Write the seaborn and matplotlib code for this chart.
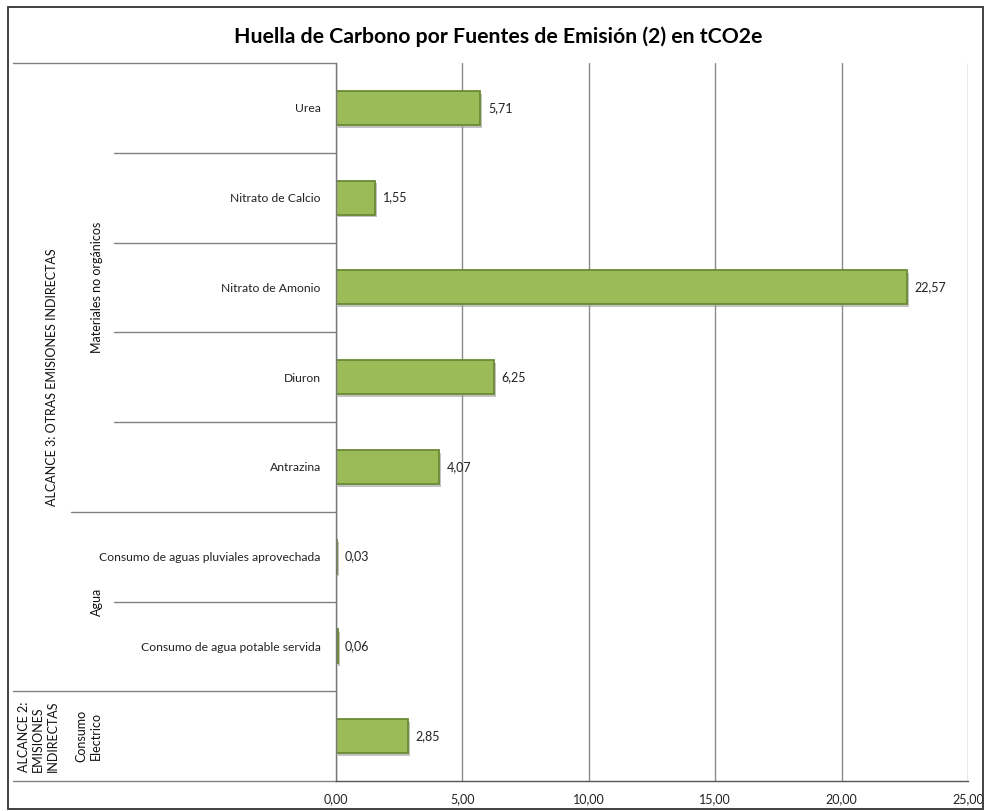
import matplotlib
matplotlib.use("Agg")
import matplotlib.pyplot as plt
import matplotlib.patheffects as pe
from matplotlib.patches import Rectangle
from matplotlib.transforms import blended_transform_factory
import seaborn as sns
import pandas as pd

# ---- data ----
fuentes = ["Urea", "Nitrato de Calcio", "Nitrato de Amonio", "Diuron", "Antrazina",
           "Consumo de aguas pluviales aprovechada", "Consumo de agua potable servida",
           "Consumo Electrico"]
etiquetas = ["Urea", "Nitrato de Calcio", "Nitrato de Amonio", "Diuron", "Antrazina",
             "Consumo de aguas pluviales aprovechada", "Consumo de agua potable servida", ""]
valores = [5.71, 1.55, 22.57, 6.25, 4.07, 0.03, 0.06, 2.85]
valores_txt = ["5,71", "1,55", "22,57", "6,25", "4,07", "0,03", "0,06", "2,85"]
x_ticks = [0, 5, 10, 15, 20, 25]
x_ticklabels = ["0,00", "5,00", "10,00", "15,00", "20,00", "25,00"]
titulo = "Huella de Carbono por Fuentes de Emisión (2) en tCO2e"

sns.set_theme(style="white")
plt.rcParams['font.family'] = ['Lato', 'DejaVu Sans']

W, H = 985, 811
fig = plt.figure(figsize=(W / 100, H / 100), dpi=100)
L, R, T, B = 336, 968, 63, 781
ax = fig.add_axes([L / W, 1 - B / H, (R - L) / W, (B - T) / H])

df = pd.DataFrame({"fuente": fuentes, "valor": valores})
sns.barplot(data=df, x="valor", y="fuente", orient="h", ax=ax, color="#9BBB59",
            width=0.38, edgecolor="#6B8A35", linewidth=1.3, saturation=1)
for p in ax.patches:
    p.set_path_effects([pe.SimplePatchShadow(offset=(1.5, -2), shadow_rgbFace="#9a9a9a", alpha=0.6),
                        pe.Normal()])

ax.set_xlim(0, 25)
ax.set_ylim(7.5, -0.5)
ax.set_xticks(x_ticks)
ax.set_xticklabels(x_ticklabels, fontsize=9, color="#222222")
ax.set_yticks(range(len(fuentes)))
ax.set_yticklabels(etiquetas, fontsize=8.7, color="#222222")
ax.set_xlabel("")
ax.set_ylabel("")
ax.tick_params(axis="y", length=0, pad=11)
ax.tick_params(axis="x", length=5, width=0.8, color="#555555", direction="out", pad=4)
ax.grid(axis="x", color="#8a8a8a", linewidth=1)
ax.set_axisbelow(True)
for s in ["top", "right"]:
    ax.spines[s].set_visible(False)
ax.spines["left"].set_color("#777777")
ax.spines["bottom"].set_color("#555555")
ax.spines["left"].set_linewidth(1)
ax.spines["bottom"].set_linewidth(1)

# value labels
for i, (v, t) in enumerate(zip(valores, valores_txt)):
    ax.text(v + 0.3, i, t, va="center", ha="left", fontsize=9, color="#222222")

# hierarchical category separators
tr = blended_transform_factory(ax.transAxes, ax.transData)
def ax_x(px):
    return (px - L) / (R - L)

sep_starts = {-0.5: 13, 0.5: 114, 1.5: 114, 2.5: 114, 3.5: 114, 4.5: 71, 5.5: 114, 6.5: 13, 7.5: 13}
for yb, px in sep_starts.items():
    ax.plot([ax_x(px), 0], [yb, yb], transform=tr, color="#808080", lw=1, clip_on=False)

# group labels
ax.text(ax_x(52), 3.0, "ALCANCE 3: OTRAS EMISIONES INDIRECTAS", transform=tr, rotation=90,
        ha="center", va="center", fontsize=9, color="#111111")
ax.text(ax_x(38), 7.0, "ALCANCE 2:\nEMISIONES\nINDIRECTAS", transform=tr, rotation=90,
        ha="center", va="center", fontsize=9, color="#111111", linespacing=1.25, multialignment="left")
ax.text(ax_x(89), 7.0, "Consumo\nElectrico", transform=tr, rotation=90,
        ha="center", va="center", fontsize=9, color="#111111", linespacing=1.25)
ax.text(ax_x(97), 2.0, "Materiales no orgánicos", transform=tr, rotation=90,
        ha="center", va="center", fontsize=9, color="#111111")
ax.text(ax_x(97), 5.5, "Agua", transform=tr, rotation=90,
        ha="center", va="center", fontsize=9, color="#111111")

# title
fig.text(498 / W, 1 - 37 / H, titulo, ha="center", va="center", fontsize=15.3,
         fontweight="bold", color="#000000")

# outer frame
fig.patches.append(Rectangle((8 / W, 1 - 809 / H), (983 - 8) / W, (809 - 7) / H,
                             transform=fig.transFigure, fill=False, edgecolor="#333333", lw=1.3))

fig.savefig("out.png", dpi=100)
